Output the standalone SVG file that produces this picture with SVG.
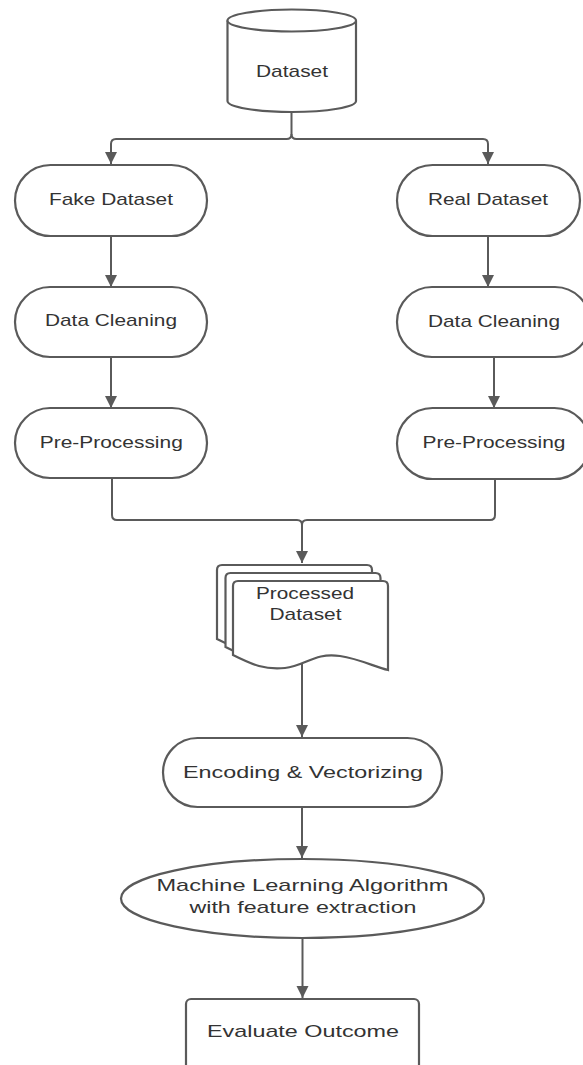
<svg xmlns="http://www.w3.org/2000/svg" width="583" height="1065" viewBox="0 0 583 1065">
<style>
.n{fill:#fff;stroke:#5a5a5a;stroke-width:2.2}
.c{fill:none;stroke:#5a5a5a;stroke-width:2}
.t{font-family:"Liberation Sans",Arial,sans-serif;font-size:17px;fill:#333;text-anchor:middle}
</style>
<defs>
<marker id="ah" markerUnits="userSpaceOnUse" markerWidth="13" markerHeight="13" refX="12" refY="6.5" orient="auto" viewBox="0 0 13 13">
<path d="M0,0.5 L12,6.5 L0,12.5 z" fill="#5a5a5a"/>
</marker>
<path id="doc" d="M0,5 Q0,0 5,0 L150,0 Q155,0 155,5 L155,89 C142,86 127,78 107,75 C82,71 72,85 52,87 C32,89 20,84 0,74 Z"/>
</defs>
<rect width="583" height="1065" fill="#fff"/>
<g id="connectors">
<path class="c" d="M291.5,112 V134 Q291.5,139 286.5,139 H116 Q111,139 111,144 V164" marker-end="url(#ah)"/>
<path class="c" d="M291.5,134 Q291.5,139 296.5,139 H483 Q488,139 488,144 V164" marker-end="url(#ah)"/>
<path class="c" d="M111,236 V287" marker-end="url(#ah)"/>
<path class="c" d="M111,357 V408" marker-end="url(#ah)"/>
<path class="c" d="M488,236 V287" marker-end="url(#ah)"/>
<path class="c" d="M494,357 V408" marker-end="url(#ah)"/>
<path class="c" d="M112,478 V515 Q112,520 117,520 H297 Q302,520 302,525 V563" marker-end="url(#ah)"/>
<path class="c" d="M495,479 V515 Q495,520 490,520 H307 Q302,520 302,525"/>
<path class="c" d="M302,664 V737" marker-end="url(#ah)"/>
<path class="c" d="M302,807 V858" marker-end="url(#ah)"/>
<path class="c" d="M302.5,938 V998" marker-end="url(#ah)"/>
</g>
<g id="dataset">
<path class="n" d="M227.5,20.5 V101 A64.25,11 0 0 0 356,101 V20.5"/>
<ellipse class="n" cx="291.75" cy="20.5" rx="64.25" ry="11"/>
<text class="t" x="292" y="77" textLength="72" lengthAdjust="spacingAndGlyphs">Dataset</text>
</g>
<g id="fake">
<rect class="n" x="15" y="165" width="192" height="71" rx="35.5"/>
<text class="t" x="111" y="205" textLength="124" lengthAdjust="spacingAndGlyphs">Fake Dataset</text>
</g>
<g id="clean_left">
<rect class="n" x="15" y="287" width="192" height="70" rx="35"/>
<text class="t" x="111" y="326" textLength="132" lengthAdjust="spacingAndGlyphs">Data Cleaning</text>
</g>
<g id="pre_left">
<rect class="n" x="15" y="408" width="192" height="70" rx="35"/>
<text class="t" x="111.3" y="448" textLength="143" lengthAdjust="spacingAndGlyphs">Pre-Processing</text>
</g>
<g id="real">
<rect class="n" x="397" y="165" width="183" height="71" rx="35.5"/>
<text class="t" x="488" y="205" textLength="120" lengthAdjust="spacingAndGlyphs">Real Dataset</text>
</g>
<g id="clean_right">
<rect class="n" x="397" y="287" width="193" height="70" rx="35"/>
<text class="t" x="494" y="327" textLength="132" lengthAdjust="spacingAndGlyphs">Data Cleaning</text>
</g>
<g id="pre_right">
<rect class="n" x="397" y="408" width="193" height="71" rx="35.5"/>
<text class="t" x="494" y="448" textLength="143" lengthAdjust="spacingAndGlyphs">Pre-Processing</text>
</g>
<g id="processed">
<use href="#doc" class="n" x="217" y="565"/>
<use href="#doc" class="n" x="225.5" y="573"/>
<use href="#doc" class="n" x="233" y="581"/>
<text class="t" x="305" y="599" textLength="98" lengthAdjust="spacingAndGlyphs">Processed</text>
<text class="t" x="305.5" y="620" textLength="72" lengthAdjust="spacingAndGlyphs">Dataset</text>
</g>
<g id="encoding">
<rect class="n" x="163" y="738" width="279" height="69" rx="34.5"/>
<text class="t" x="303" y="778" textLength="240" lengthAdjust="spacingAndGlyphs">Encoding &amp; Vectorizing</text>
</g>
<g id="ml">
<ellipse class="n" cx="302.5" cy="898.5" rx="181.5" ry="39.5"/>
<text class="t" x="302.5" y="891" textLength="292" lengthAdjust="spacingAndGlyphs">Machine Learning Algorithm</text>
<text class="t" x="303" y="913" textLength="227" lengthAdjust="spacingAndGlyphs">with feature extraction</text>
</g>
<g id="evaluate">
<rect class="n" x="186" y="999" width="233" height="90" rx="5"/>
<text class="t" x="303" y="1037" textLength="192" lengthAdjust="spacingAndGlyphs">Evaluate Outcome</text>
</g>
</svg>
